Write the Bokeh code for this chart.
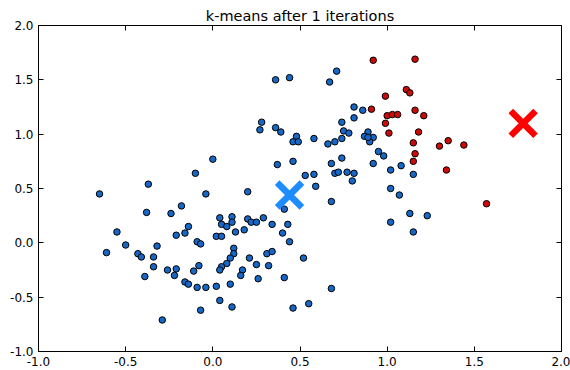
from bokeh.plotting import figure
from bokeh.models import FixedTicker, LinearAxis, Range1d
from bokeh.embed import file_html
from bokeh.resources import INLINE

# cluster 0 (blue)
blue_x = [0.36, 0.44, 0.67, 0.71, 0.81, 0.86, 0.81, 0.28, 0.27, 0.36, 0.39, 0.48, 0.74, 0.75, 0.78,
          0.89, 0.46, 0.49, 0.58, 0.66, 0.70, 0.74, 0.87, 0.92, 0.90, 0.89, 0.95, 0.98, 0.00, 0.37,
          0.46, 0.74, 0.68, 0.92, 1.02, 1.08, 1.15, 0.53, 0.58, 0.70, 0.72, 0.77, 0.81, 0.80, 0.59,
          0.20, 1.02, 1.07, 0.68, 0.41, 1.02, 1.13, 1.23, 1.15, 0.04, 0.11, 0.11, 0.20, 0.22, 0.25,
          0.29, 0.05, 0.08, 0.34, 0.43, 0.13, 0.18, 0.40, 0.02, 0.05, 0.44, -0.65, -0.37, -0.38, -0.24,
          -0.18, -0.10, -0.04, -0.55, -0.50, -0.32, -0.21, -0.16, -0.14, -0.09, -0.07, -0.61, -0.43, -0.41, -0.34,
          -0.34, -0.39, -0.26, -0.21, -0.22, -0.08, -0.11, -0.16, -0.14, -0.09, -0.04, 0.02, 0.04, -0.07,
          -0.29, 0.12, 0.12, 0.10, 0.08, 0.05, 0.04, 0.21, 0.31, 0.34, 0.25, 0.32, 0.17, 0.16, 0.26,
          0.41, 0.52, 0.10, 0.68, 0.11, 0.46, 0.55]
blue_y = [1.50, 1.52, 1.48, 1.58, 1.25, 1.22, 1.15, 1.11, 1.04, 1.06, 1.02, 0.98, 1.11, 1.03, 1.01,
          1.02, 0.93, 0.93, 0.96, 0.91, 0.93, 0.96, 0.98, 0.97, 0.93, 0.97, 0.84, 0.80, 0.77, 0.72,
          0.75, 0.78, 0.73, 0.73, 0.67, 0.71, 0.63, 0.62, 0.63, 0.64, 0.65, 0.65, 0.64, 0.57, 0.52,
          0.47, 0.50, 0.44, 0.38, 0.31, 0.19, 0.27, 0.25, 0.10, 0.23, 0.24, 0.19, 0.22, 0.19, 0.19,
          0.23, 0.17, 0.15, 0.17, 0.17, 0.10, 0.12, 0.09, 0.06, 0.06, 0.01, 0.45, 0.54, 0.28, 0.27,
          0.34, 0.64, 0.45, 0.10, -0.02, -0.03, 0.07, 0.09, 0.15, 0.01, -0.01, -0.09, -0.10, -0.13, -0.13,
          -0.22, -0.31, -0.25, -0.24, -0.30, -0.21, -0.26, -0.36, -0.38, -0.41, -0.41, -0.40, -0.53, -0.62,
          -0.71, -0.05, -0.10, -0.14, -0.19, -0.22, -0.25, -0.14, -0.10, -0.08, -0.20, -0.21, -0.25, -0.30, -0.33,
          -0.32, -0.14, -0.38, -0.42, -0.59, -0.60, -0.56]

# cluster 1 (red)
red_x = [0.92, 1.16, 0.99, 0.91, 1.00, 1.03, 1.06, 0.99, 1.01, 1.11, 1.13, 1.16, 1.21, 1.18, 1.15,
         1.16, 1.15, 1.30, 1.35, 1.44, 1.34, 1.57]
red_y = [1.68, 1.69, 1.35, 1.23, 1.17, 1.18, 1.18, 1.10, 1.01, 1.41, 1.38, 1.22, 1.17, 1.02, 0.92,
         0.82, 0.75, 0.89, 0.94, 0.90, 0.67, 0.36]

# centroids
centroid_x = [0.44, 1.78]
centroid_y = [0.44, 1.10]
centroid_colors = ["#1c8cff", "#ff0000"]

x_ticks = [-1.0, -0.5, 0.0, 0.5, 1.0, 1.5, 2.0]
x_tick_labels = ["-1.0", "-0.5", "0.0", "0.5", "1.0", "1.5", "2.0"]
y_ticks = [-1.0, -0.5, 0.0, 0.5, 1.0, 1.5, 2.0]
y_tick_labels = ["-1.0", "-0.5", "0.0", "0.5", "1.0", "1.5", "2.0"]

title_text = "k-means after 1 iterations"

FONT = "DejaVu Sans"

p = figure(width=570, height=370, output_backend="svg", toolbar_location=None,
           x_range=Range1d(-1.0, 2.0), y_range=Range1d(-1.0, 2.0),
           title=title_text, min_border_left=38, min_border_right=9,
           min_border_top=25, min_border_bottom=19)

p.title.align = "center"
p.title.text_font = FONT
p.title.text_font_size = "14.5px"
p.title.text_font_style = "normal"
p.title.text_color = "#000000"
p.title.standoff = 4
p.title.offset = 0

p.grid.visible = False
p.outline_line_color = "#000000"
p.outline_line_width = 1
p.background_fill_color = "white"
p.border_fill_color = "white"

def style_main_axis(ax, ticks, labels):
    ax.ticker = FixedTicker(ticks=ticks)
    ax.major_label_overrides = {t: l for t, l in zip(ticks, labels)}
    ax.major_tick_in = 5
    ax.major_tick_out = 0
    ax.minor_tick_in = 0
    ax.minor_tick_out = 0
    ax.axis_line_color = "#000000"
    ax.major_tick_line_color = "#000000"
    ax.major_label_text_font = FONT
    ax.major_label_text_font_size = "12px"
    ax.major_label_text_color = "#000000"
    ax.major_label_standoff = 5

def style_mirror_axis(ax, ticks):
    # tick marks only (drawn as minor ticks, which carry no labels)
    ax.ticker = FixedTicker(ticks=[], minor_ticks=ticks)
    ax.major_tick_in = 0
    ax.major_tick_out = 0
    ax.minor_tick_in = 5
    ax.minor_tick_out = 0
    ax.minor_tick_line_color = "#000000"
    ax.axis_line_color = "#000000"
    ax.major_label_standoff = 0

style_main_axis(p.xaxis[0], x_ticks, x_tick_labels)
style_main_axis(p.yaxis[0], y_ticks, y_tick_labels)

top_axis = LinearAxis()
right_axis = LinearAxis()
style_mirror_axis(top_axis, x_ticks)
style_mirror_axis(right_axis, y_ticks)
p.add_layout(top_axis, "above")
p.add_layout(right_axis, "right")

p.scatter(blue_x, blue_y, marker="circle", size=6.5, fill_color="#1667c6",
          line_color="#000000", line_width=1)
p.scatter(red_x, red_y, marker="circle", size=6.5, fill_color="#cc0a0a",
          line_color="#000000", line_width=1)

p.scatter(centroid_x, centroid_y, marker="x", size=35, line_color=centroid_colors,
          line_width=6.5, line_cap="butt")

open("out.html", "w").write(file_html(p, INLINE))
